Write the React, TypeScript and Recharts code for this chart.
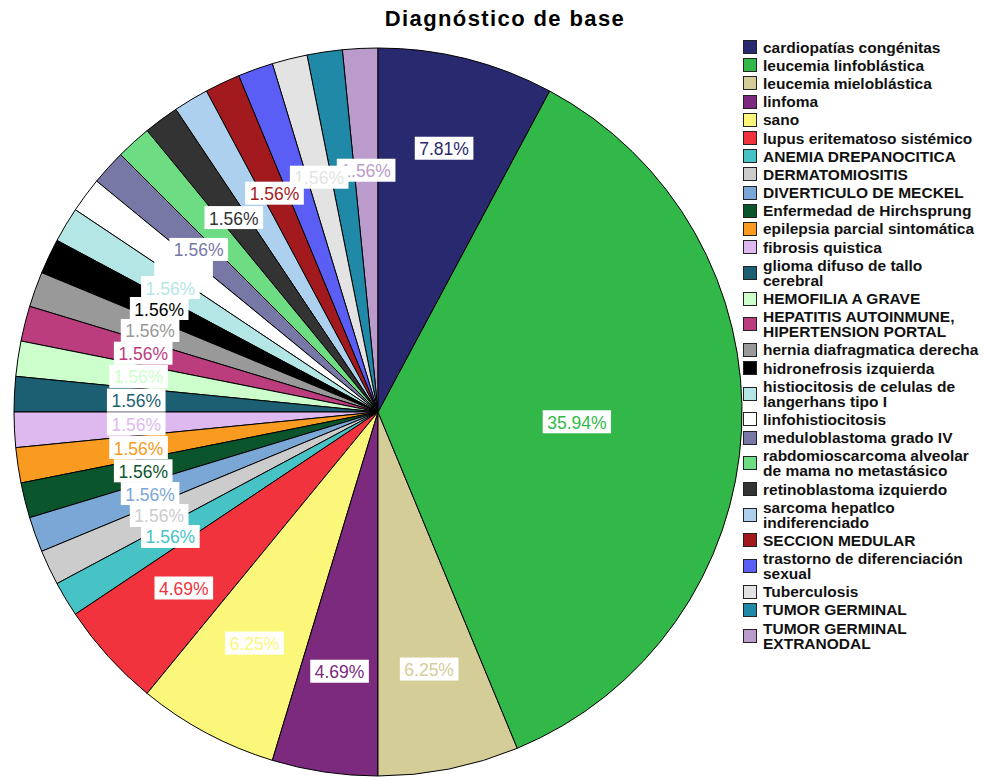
import React from "react";
import { PieChart, Pie, Cell, Legend } from "recharts";

const categories: string[] = [
  "cardiopatías congénitas",
  "leucemia linfoblástica",
  "leucemia mieloblástica",
  "linfoma",
  "sano",
  "lupus eritematoso sistémico",
  "ANEMIA DREPANOCITICA",
  "DERMATOMIOSITIS",
  "DIVERTICULO DE MECKEL",
  "Enfermedad de Hirchsprung",
  "epilepsia parcial sintomática",
  "fibrosis quistica",
  "glioma difuso de tallo cerebral",
  "HEMOFILIA A GRAVE",
  "HEPATITIS AUTOINMUNE, HIPERTENSION PORTAL",
  "hernia diafragmatica derecha",
  "hidronefrosis izquierda",
  "histiocitosis de celulas de langerhans tipo I",
  "linfohistiocitosis",
  "meduloblastoma grado IV",
  "rabdomioscarcoma alveolar de mama no metastásico",
  "retinoblastoma izquierdo",
  "sarcoma hepatlco indiferenciado",
  "SECCION MEDULAR",
  "trastorno de diferenciación sexual",
  "Tuberculosis",
  "TUMOR GERMINAL",
  "TUMOR GERMINAL EXTRANODAL",
];

const counts: number[] = [
  5, 23, 4, 3, 4, 3, 1, 1, 1, 1, 1, 1, 1, 1, 1, 1, 1, 1, 1, 1, 1, 1, 1, 1, 1, 1, 1, 1,
];

const colors: string[] = [
  "#29296f",
  "#31b849",
  "#d4cd98",
  "#7b2a7d",
  "#fbf77a",
  "#f0333c",
  "#47c3c6",
  "#cccccc",
  "#7aa7d6",
  "#0b552c",
  "#f89b20",
  "#ddb9f0",
  "#1c5f72",
  "#ccffcc",
  "#bb3d7d",
  "#999999",
  "#000000",
  "#b4e6e6",
  "#ffffff",
  "#7878a6",
  "#6ddc82",
  "#333333",
  "#acd0ee",
  "#a31a1e",
  "#5b5ef5",
  "#e3e3e3",
  "#2189a8",
  "#bb9bcc",
];

const data = categories.map((name, i) => ({ name, value: counts[i], color: colors[i], idx: i }));
// Pie is drawn from the last category back (counter-clockwise from the top) so the
// slices land in the same clockwise order while earlier labels are painted on top.
const pieData = [...data].reverse();
const total = counts.reduce((a, b) => a + b, 0);

const RAD = Math.PI / 180;
const FONT = "'Liberation Sans', Arial, sans-serif";
const LABEL_SIZE = 17.5;
const CX = 378;
const CY = 412;
const OUTER = 364;
const BOX_H = 23;

function charW(c: string): number {
  if (c === ".") return 0.278 * LABEL_SIZE;
  if (c === "%") return 0.889 * LABEL_SIZE;
  return 0.556 * LABEL_SIZE;
}

function labelText(value: number): string {
  return ((value / total) * 100).toFixed(2) + "%";
}

function labelFactor(value: number): number {
  const pct = (value / total) * 100;
  if (pct > 30) return 0.547;
  if (pct > 7) return 0.747;
  if (pct > 4) return 0.72;
  return 0.665;
}

function boxWidth(text: string): number {
  let w = 0;
  for (const c of text) w += charW(c);
  return w + 9;
}

// Hide labels that would overlap too much with an already shown one (processed from the last slice back)
const labelVisible: boolean[] = (() => {
  const boxes: { x: number; y: number; w: number }[] = [];
  let cum = 0;
  for (let i = 0; i < counts.length; i++) {
    const theta = ((cum + counts[i] / 2) / total) * 360 * RAD;
    cum += counts[i];
    const r = OUTER * labelFactor(counts[i]);
    boxes.push({
      x: CX + r * Math.sin(theta),
      y: CY - r * Math.cos(theta),
      w: boxWidth(labelText(counts[i])),
    });
  }
  const vis = new Array(counts.length).fill(false);
  const shown: number[] = [];
  for (let i = counts.length - 1; i >= 0; i--) {
    const b = boxes[i];
    let ok = true;
    for (const j of shown) {
      const o = boxes[j];
      const ow = Math.min(b.x + b.w / 2, o.x + o.w / 2) - Math.max(b.x - b.w / 2, o.x - o.w / 2);
      const oh = BOX_H - Math.abs(b.y - o.y);
      if (ow > 0 && oh > 0 && ow * oh > 250) {
        ok = false;
        break;
      }
    }
    if (ok) {
      vis[i] = true;
      shown.push(i);
    }
  }
  return vis;
})();

const renderLabel = (props: any) => {
  const { cx, cy, midAngle, outerRadius, value, fill, payload } = props;
  const idx = payload && typeof payload.idx === "number" ? payload.idx : -1;
  if (idx < 0 || !labelVisible[idx]) return null;
  const text = labelText(value);
  const r = outerRadius * labelFactor(value);
  const x = cx + r * Math.cos(-midAngle * RAD);
  const y = cy + r * Math.sin(-midAngle * RAD);
  const bw = boxWidth(text);
  return (
    <g>
      <rect x={x - bw / 2} y={y - BOX_H / 2} width={bw} height={BOX_H} fill="#ffffff" />
      <text
        x={x}
        y={y + 1}
        fill={fill}
        textAnchor="middle"
        dominantBaseline="central"
        fontFamily={FONT}
        fontSize={LABEL_SIZE}
      >
        {text}
      </text>
    </g>
  );
};

const renderLegend = () => (
  <div style={{ fontFamily: FONT, fontWeight: "bold", fontSize: 15.5, color: "#111" }}>
    {data.map((d, i) => (
      <div
        key={i}
        style={{ display: "flex", alignItems: "center", padding: "1.6px 0", lineHeight: "15px" }}
      >
        <div
          style={{
            width: 12,
            height: 12,
            background: d.color,
            border: "1px solid #222",
            flex: "none",
            marginRight: 6,
          }}
        />
        <div style={{ width: 221 }}>{d.name}</div>
      </div>
    ))}
  </div>
);

export default function App() {
  return (
    <div style={{ position: "absolute", left: 0, top: 0, width: 986, height: 778, background: "#fff" }}>
      <div
        style={{
          position: "absolute",
          left: 0,
          top: 6,
          width: 1010,
          textAlign: "center",
          fontFamily: FONT,
          fontWeight: "bold",
          fontSize: 22,
          letterSpacing: 1.4,
          color: "#000",
        }}
      >
        Diagnóstico de base
      </div>
      <PieChart width={986} height={778} margin={{ top: 0, right: 0, bottom: 0, left: 0 }}>
        <Pie
          data={pieData}
          dataKey="value"
          nameKey="name"
          cx={CX}
          cy={CY}
          outerRadius={OUTER}
          startAngle={90}
          endAngle={450}
          stroke="#000"
          strokeWidth={1}
          label={renderLabel}
          labelLine={false}
          isAnimationActive={false}
        >
          {pieData.map((d) => (
            <Cell key={d.idx} fill={d.color} />
          ))}
        </Pie>
        <Legend
          content={renderLegend}
          layout="vertical"
          verticalAlign="top"
          align="right"
          wrapperStyle={{ position: "absolute", left: 743, top: 38, width: 243 }}
        />
      </PieChart>
    </div>
  );
}
